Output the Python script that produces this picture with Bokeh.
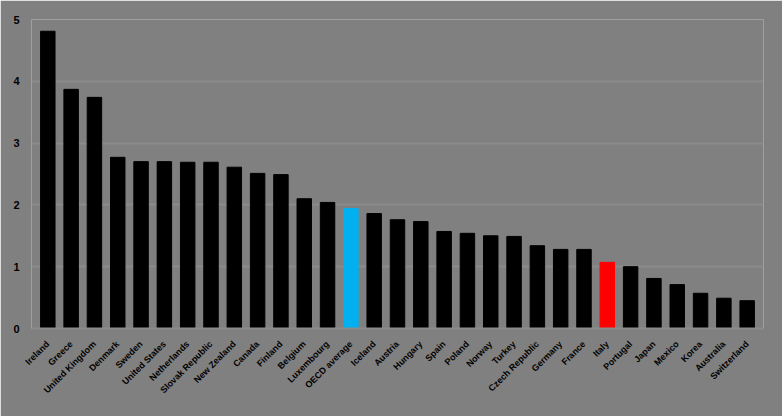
import math
from bokeh.plotting import figure
from bokeh.models import ColumnDataSource, FactorRange
from bokeh.embed import file_html
from bokeh.resources import INLINE

countries = ["Ireland", "Greece", "United Kingdom", "Denmark", "Sweden", "United States",
             "Netherlands", "Slovak Republic", "New Zealand", "Canada", "Finland", "Belgium",
             "Luxembourg", "OECD average", "Iceland", "Austria", "Hungary", "Spain", "Poland",
             "Norway", "Turkey", "Czech Republic", "Germany", "France", "Italy", "Portugal",
             "Japan", "Mexico", "Korea", "Australia", "Switzerland"]
values = [4.81, 3.87, 3.74, 2.77, 2.70, 2.70, 2.69, 2.69, 2.61, 2.51, 2.49, 2.10,
          2.04, 1.94, 1.86, 1.76, 1.73, 1.57, 1.54, 1.50, 1.49, 1.34, 1.28, 1.28,
          1.07, 1.00, 0.81, 0.71, 0.57, 0.49, 0.45]
highlight = {"OECD average": "#00b0f0", "Italy": "#ff0000"}
colors = [highlight.get(c, "#000000") for c in countries]

BG = "#808080"
GRID = "#8b8b8b"

src = ColumnDataSource(dict(x=countries, top=values, color=colors))

xr = FactorRange(*countries, range_padding=0.2, range_padding_units="absolute")
p = figure(width=782, height=416, x_range=xr, y_range=(0, 5),
           output_backend="svg", toolbar_location=None,
           min_border_left=31, min_border_right=19, min_border_top=19, min_border_bottom=88)
p.background_fill_color = BG
p.border_fill_color = BG
p.outline_line_color = None

p.vbar(x="x", top="top", width=0.62, color="color", source=src)

p.xgrid.grid_line_color = None
p.ygrid.grid_line_color = GRID
p.ygrid.grid_line_width = 2
p.yaxis.ticker = [0, 1, 2, 3, 4, 5]

for ax in (p.xaxis, p.yaxis):
    ax.axis_line_color = None
    ax.major_tick_line_color = None
    ax.minor_tick_line_color = None
    ax.major_label_text_font = "Liberation Sans"
    ax.major_label_text_font_style = "bold"
    ax.major_label_text_color = "#000000"

p.xaxis.axis_line_color = GRID
p.xaxis.axis_line_width = 2
p.xaxis.major_label_orientation = math.pi / 4
p.xaxis.major_label_text_font_size = "9px"
p.xaxis.major_label_standoff = 8
p.yaxis.major_label_text_font_size = "11px"
p.yaxis.major_label_standoff = 6

open("out.html", "w").write(file_html(p, INLINE))
